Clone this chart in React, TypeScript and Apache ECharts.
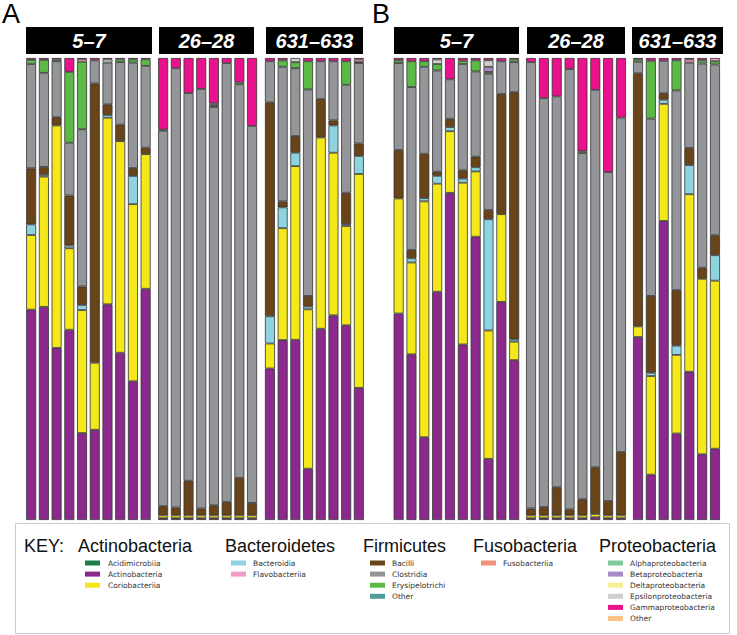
import React, { useEffect, useRef } from "react";
import * as echarts from "echarts";

// Taxa (legend order)
const TAXA = [
  "Acidimicrobiia", "Actinobacteria", "Coriobacteriia",
  "Bacteroidia", "Flavobacteriia",
  "Bacilli", "Clostridia", "Erysipelotrichi", "Other",
  "Fusobacteriia",
  "Alphaproteobacteria", "Betaproteobacteria", "Deltaproteobacteria",
  "Epsilonproteobacteria", "Gammaproteobacteria", "Other",
];
const COLORS = [
  "#1b7f45", "#8b2a8c", "#f4e71a",
  "#8dd3e0", "#ef9bc2",
  "#6a4419", "#939598", "#5cb946", "#4f9a9b",
  "#f29379",
  "#80c99c", "#a78bc7", "#f6f097",
  "#cfcfcf", "#e9118c", "#f9c287",
];
// stacking order, bottom to top (indexes into TAXA)
const STACK_ORDER = [1, 2, 0, 3, 5, 6, 7, 8, 9, 10, 11, 12, 13, 4, 14, 15];

// Relative abundance per sample; columns follow TAXA order
// [Acm, Act, Cor, Bac, Fla, Bcl, Clo, Ery, FOt, Fus, Alp, Bet, Del, Eps, Gam, POt]
const A_5_7 = [
  [0, 45.4, 16.1, 2.3, 0, 12.1, 22.5, 0.9, 0, 0, 0, 0, 0, 0, 0.4, 0],
  [0, 46.0, 28.1, 0.4, 0, 1.7, 20.3, 2.8, 0, 0, 0, 0, 0, 0, 0.4, 0],
  [0, 37.2, 48.1, 0, 0, 1.8, 12.1, 0.4, 0, 0, 0, 0, 0, 0, 0.3, 0],
  [0, 41.1, 17.6, 0.6, 0, 10.8, 11.4, 15.3, 0, 0, 0, 0, 0, 0, 3.0, 0],
  [0, 18.8, 26.6, 1.1, 0.6, 4.0, 34.0, 14.6, 0, 0, 0, 0, 0, 0, 0.2, 0],
  [0, 19.5, 14.5, 0, 0, 60.4, 5.0, 0, 0, 0, 0, 0, 0, 0, 0.5, 0],
  [0, 46.6, 40.3, 0.6, 0, 2.3, 9.0, 0, 0, 0, 0, 0, 0, 0.7, 0.3, 0],
  [0, 36.2, 45.8, 0, 0, 3.6, 13.5, 0.6, 0, 0, 0, 0, 0, 0, 0.3, 0],
  [0, 30.0, 38.3, 6.1, 0, 1.7, 22.8, 0.7, 0, 0, 0, 0, 0, 0, 0.3, 0],
  [0, 50.0, 29.1, 0, 0, 1.4, 17.7, 1.4, 0, 0, 0, 0, 0, 0, 0.3, 0],
];
const A_26_28 = [
  [0, 0.4, 0.6, 0, 0, 2.0, 81.3, 0.2, 0, 0, 0, 0, 0, 0, 15.5, 0],
  [0, 0.4, 0.6, 0, 0, 1.7, 94.8, 0, 0, 0, 0, 0, 0, 0, 2.2, 0],
  [0, 0.4, 0.6, 0, 0, 7.5, 83.9, 0, 0, 0, 0, 0, 0, 0, 7.6, 0],
  [0, 0.4, 0.6, 0, 0, 1.5, 90.8, 0, 0, 0, 0, 0, 0, 0, 6.7, 0],
  [0, 0.4, 0.6, 0, 0.4, 2.2, 86.2, 0.4, 0, 0, 0, 0, 0, 0, 9.8, 0],
  [0, 0.4, 0.6, 0, 0, 2.9, 95.0, 0, 0, 0, 0, 0, 0, 0, 1.1, 0],
  [0, 0.4, 0.6, 0, 0, 8.1, 85.2, 0.4, 0, 0, 0, 0, 0, 0, 5.3, 0],
  [0, 0.4, 0.6, 0, 0, 2.7, 81.6, 0, 0, 0, 0, 0, 0, 0, 14.7, 0],
];
const A_631_633 = [
  [0, 32.8, 5.4, 5.9, 0, 46.3, 8.9, 0, 0, 0, 0, 0, 0, 0, 0.7, 0],
  [0, 38.9, 24.2, 4.5, 0, 1.3, 29.1, 1.4, 0, 0, 0, 0, 0, 0, 0.5, 0],
  [0, 39.0, 37.6, 2.9, 0, 3.6, 14.7, 1.3, 0, 0, 0, 0, 0, 0.9, 0, 0],
  [0, 11.1, 34.5, 0.6, 0, 2.3, 44.7, 6.1, 0, 0, 0, 0, 0, 0, 0.7, 0],
  [0, 41.4, 41.4, 0, 0, 8.3, 8.2, 0, 0, 0, 0, 0, 0, 0, 0.7, 0],
  [0, 44.3, 35.2, 5.9, 0, 1.1, 12.8, 0, 0, 0, 0, 0, 0, 0, 0.7, 0],
  [0, 42.2, 21.5, 0.4, 0, 6.8, 23.4, 5.1, 0, 0, 0, 0, 0, 0, 0.7, 0],
  [0, 28.6, 46.3, 3.9, 0.6, 2.7, 17.4, 0.2, 0, 0, 0, 0, 0, 0, 0.3, 0],
];
const B_5_7 = [
  [0, 44.7, 24.9, 0, 0, 10.5, 18.8, 0.6, 0, 0, 0, 0, 0, 0, 0.5, 0],
  [0, 35.9, 19.9, 0.9, 0, 1.8, 35.3, 5.6, 0, 0, 0, 0, 0, 0, 0.7, 0],
  [0, 17.9, 51.0, 0.7, 0, 9.6, 18.8, 1.2, 0, 0, 0, 0, 0, 0, 0.7, 0],
  [0, 49.4, 23.4, 1.7, 0, 0.9, 21.9, 1.4, 0, 0, 0, 0, 0, 1.0, 0.3, 0],
  [0, 70.6, 13.3, 0.9, 0, 1.8, 8.5, 0, 0, 0, 0, 0, 0, 0, 4.6, 0],
  [0, 38.0, 35.0, 0.9, 0, 1.8, 23.0, 0.7, 0, 0, 0, 0, 0, 0, 0.6, 0],
  [0, 61.2, 14.1, 0.9, 0, 2.3, 18.4, 2.4, 0, 0, 0, 0, 0, 0, 0.5, 0],
  [0, 13.2, 27.7, 24.0, 0, 2.0, 29.4, 0.4, 0, 0, 0, 1.1, 0, 1.4, 0.5, 0],
  [0, 47.2, 19.0, 0, 0, 26.0, 7.1, 0, 0, 0, 0, 0, 0, 0, 0.7, 0],
  [0, 34.6, 4.0, 0.5, 0, 53.5, 6.5, 0.6, 0, 0, 0, 0, 0, 0, 0.3, 0],
];
const B_26_28 = [
  [0, 0.4, 0.6, 0, 0, 1.5, 96.6, 0, 0, 0, 0, 0, 0, 0, 0.9, 0],
  [0, 0.4, 0.6, 0, 0, 1.8, 88.5, 0, 0, 0, 0, 0, 0, 0, 8.7, 0],
  [0, 0.4, 0.6, 0, 0, 6.1, 84.6, 0, 0, 0, 0, 0, 0, 0, 8.3, 0],
  [0, 0.4, 0.6, 0, 0, 1.3, 95.3, 0, 0, 0, 0, 0, 0, 0, 2.4, 0],
  [0, 0.4, 0.6, 0, 0, 3.5, 74.9, 0.4, 0, 0, 0, 0, 0, 0, 20.2, 0],
  [0, 0.6, 0.7, 0, 0, 10.1, 81.7, 0, 0, 0, 0, 0, 0, 0, 6.9, 0],
  [0, 0.4, 0.6, 0, 0, 3.1, 71.2, 0, 0, 0, 0, 0, 0, 0, 24.7, 0],
  [0, 0.4, 0.6, 0, 0, 13.7, 72.4, 0, 0, 0, 0, 0, 0, 0, 12.9, 0],
];
const B_631_633 = [
  [0, 39.6, 2.3, 0, 0, 54.8, 2.5, 0.5, 0, 0, 0, 0, 0, 0, 0.3, 0],
  [0, 9.8, 21.3, 0.7, 0, 16.6, 38.3, 12.5, 0, 0, 0, 0, 0, 0, 0.6, 0],
  [0, 64.6, 25.3, 0.9, 0, 1.4, 7.0, 0, 0, 0, 0, 0, 0, 0, 0.6, 0],
  [0, 18.7, 17.0, 2.0, 0, 12.0, 43.2, 6.5, 0, 0, 0, 0, 0, 0, 0.5, 0],
  [0, 32.0, 38.3, 6.3, 0.7, 3.7, 18.4, 0, 0, 0, 0, 0, 0, 0, 0.3, 0],
  [0, 14.2, 37.9, 0, 0, 2.4, 44.1, 0.7, 0, 0, 0, 0, 0, 0, 0.5, 0],
  [0, 15.4, 36.3, 5.5, 0.7, 4.3, 36.9, 0.7, 0, 0, 0, 0, 0, 0, 0, 0],
];

const GROUP_LABELS = ["5–7", "26–28", "631–633", "5–7", "26–28", "631–633"];
const GROUP_DATA = [A_5_7, A_26_28, A_631_633, B_5_7, B_26_28, B_631_633];

const PHYLA = ["Actinobacteria", "Bacteroidetes", "Firmicutes", "Fusobacteria", "Proteobacteria"];
const PHYLUM_MEMBERS = [[0, 1, 2], [3, 4], [5, 6, 7, 8], [9], [10, 11, 12, 13, 14, 15]];

// layout (pixels)
const GRID_LAYOUT = [
  { left: 24.8, width: 127.2, hx: 26, hw: 126 },
  { left: 156.8, width: 101.6, hx: 159, hw: 95 },
  { left: 263.6, width: 101.6, hx: 266, hw: 97 },
  { left: 392.2, width: 128.4, hx: 394, hw: 125 },
  { left: 524.6, width: 102.8, hx: 527, hw: 98 },
  { left: 631.6, width: 89.8, hx: 632, hw: 91 },
];
const LEGEND_LAYOUT = [
  { tx: 78, sx: 85, lx: 108 },
  { tx: 225, sx: 231, lx: 253 },
  { tx: 363, sx: 370, lx: 392 },
  { tx: 473, sx: 481, lx: 503 },
  { tx: 599, sx: 608, lx: 630 },
];

export default function App() {
  const ref = useRef<HTMLDivElement>(null);
  useEffect(() => {
    document.body.style.margin = "0";
    const chart = echarts.init(ref.current!, null, { renderer: "svg" });
    const TOP = 58, HEIGHT = 462;
    const grids: any[] = [], xAxes: any[] = [], yAxes: any[] = [], series: any[] = [];
    const graphics: any[] = [];

    GROUP_DATA.forEach((bars, g) => {
      const L = GRID_LAYOUT[g];
      grids.push({ left: L.left, width: L.width, top: TOP, height: HEIGHT });
      xAxes.push({
        type: "category", gridIndex: g, data: bars.map((_, i) => `${GROUP_LABELS[g]} #${i + 1}`),
        show: false, boundaryGap: true,
      });
      yAxes.push({ type: "value", gridIndex: g, min: 0, max: 100, show: false });
      const totals = bars.map((b) => b.reduce((s, v) => s + v, 0));
      STACK_ORDER.forEach((t) => {
        series.push({
          type: "bar", name: TAXA[t], xAxisIndex: g, yAxisIndex: g, stack: "g" + g,
          barWidth: 10,
          data: bars.map((b, i) => (b[t] > 0 ? (b[t] / totals[i]) * 100 : "-")),
          itemStyle: { color: COLORS[t], borderColor: "#333333", borderWidth: 0.8 },
          emphasis: { disabled: true },
        });
      });
      graphics.push({ type: "rect", shape: { x: L.hx, y: 27, width: L.hw, height: 27 }, style: { fill: "#000" } });
      graphics.push({
        type: "text", x: L.hx + L.hw / 2, y: 41,
        style: {
          text: GROUP_LABELS[g], fill: "#fff", font: "italic bold 20px 'Liberation Sans', Arial, sans-serif",
          textAlign: "center", textVerticalAlign: "middle",
        },
      });
    });

    graphics.push({ type: "text", x: 2, y: 14, style: { text: "A", fill: "#000", font: "27px 'Liberation Sans', Arial, sans-serif", textVerticalAlign: "middle" } });
    graphics.push({ type: "text", x: 372, y: 14, style: { text: "B", fill: "#000", font: "27px 'Liberation Sans', Arial, sans-serif", textVerticalAlign: "middle" } });

    // legend box
    graphics.push({ type: "rect", shape: { x: 15.5, y: 523.5, width: 714, height: 110 }, style: { fill: "none", stroke: "#cccccc", lineWidth: 1 } });
    graphics.push({ type: "text", x: 24, y: 546, style: { text: "KEY:", fill: "#111", font: "18px 'Liberation Sans', Arial, sans-serif", textVerticalAlign: "middle" } });
    PHYLA.forEach((p, k) => {
      const L = LEGEND_LAYOUT[k];
      graphics.push({ type: "text", x: L.tx, y: 546, style: { text: p, fill: "#111", font: "18px 'Liberation Sans', Arial, sans-serif", textVerticalAlign: "middle" } });
      PHYLUM_MEMBERS[k].forEach((t, r) => {
        const cy = 563 + r * 11.1;
        graphics.push({ type: "rect", shape: { x: L.sx, y: cy - 2.5, width: 15, height: 5 }, style: { fill: COLORS[t] } });
        graphics.push({ type: "text", x: L.lx, y: cy, style: { text: TAXA[t], fill: "#333", font: "7.5px 'DejaVu Sans', sans-serif", textVerticalAlign: "middle" } });
      });
    });

    chart.setOption({
      animation: false,
      backgroundColor: "#fff",
      grid: grids, xAxis: xAxes, yAxis: yAxes, series,
      graphic: graphics,
    });
    return () => chart.dispose();
  }, []);
  return <div ref={ref} style={{ width: 737, height: 635 }} />;
}
